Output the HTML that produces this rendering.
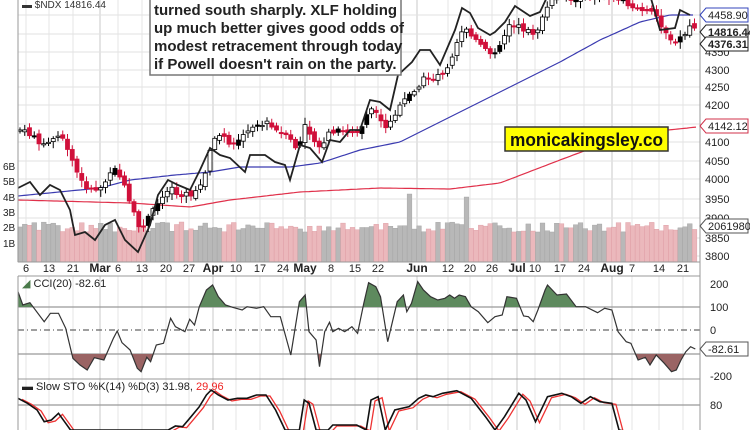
<!DOCTYPE html>
<html><head><meta charset="utf-8"><style>
body{margin:0;background:#fff;width:750px;height:430px;overflow:hidden;font-family:"Liberation Sans",sans-serif}
svg{display:block}
</style></head><body>
<svg id="s" width="750" height="430" viewBox="0 0 750 430" xmlns="http://www.w3.org/2000/svg" font-family="Liberation Sans, sans-serif">
<rect width="750" height="430" fill="#fff"/>
<g id="grid" stroke="#e2e2e2" stroke-width="1"></g>
<g id="vol"></g>
<g id="ma"></g>
<g id="cand"></g>
<g id="lines"></g>
<g id="cci"></g>
<g id="sto"></g>
<line x1="18" y1="0" x2="18" y2="262" stroke="#999"/>
<line x1="700" y1="0" x2="700" y2="430" stroke="#999"/>
<line x1="18" y1="262" x2="700" y2="262" stroke="#999"/>
<line x1="18" y1="276" x2="700" y2="276" stroke="#999"/>
<line x1="18" y1="379" x2="700" y2="379" stroke="#999"/>
<line x1="18" y1="276" x2="18" y2="430" stroke="#999"/>
<g font-size="11" fill="#222" id="labels"></g>
<text x="22" y="8" font-size="10" fill="#333">▬ $NDX 14816.44</text>
<rect x="150" y="-5" width="251" height="80" fill="#fff" stroke="#777" stroke-width="1.5"/>
<g font-size="15" font-weight="bold" fill="#222">
<text x="154" y="15">turned south sharply. XLF holding</text>
<text x="154" y="33">up much better gives good odds of</text>
<text x="154" y="51">modest retracement through today</text>
<text x="154" y="69">if Powell doesn't rain on the party.</text>
</g>
<rect x="505" y="127" width="163" height="24" fill="#ffff00" stroke="#333" stroke-width="1.5"/>
<text x="510" y="146" font-size="18" font-weight="bold" textLength="153" lengthAdjust="spacingAndGlyphs" fill="#111">monicakingsley.co</text>
<text x="22" y="287" font-size="11" fill="#222"><tspan fill="#4a7a4a">◢</tspan> CCI(20) -82.61</text>
<text x="22" y="390" font-size="11" fill="#222">▬ Slow STO %K(14) %D(3) 31.98, <tspan fill="#e22">29.96</tspan></text>
</svg>
<script>
const NS="http://www.w3.org/2000/svg";
function el(p,t,a,txt){const e=document.createElementNS(NS,t);for(const k in a)e.setAttribute(k,a[k]);if(txt!=null)e.textContent=txt;document.getElementById(p).appendChild(e);return e;}
function interp(pts,x){if(x<=pts[0][0])return pts[0][1];for(let i=1;i<pts.length;i++){if(x<=pts[i][0]){const a=pts[i-1],b=pts[i];return a[1]+(b[1]-a[1])*(x-a[0])/(b[0]-a[0]);}}return pts[pts.length-1][1];}
function path(pts){return pts.map((p,i)=>(i?'L':'M')+p[0].toFixed(1)+' '+p[1].toFixed(1)).join(' ');}
const dates=[[26,"6"],[49,"13"],[73,"21"],[100,"Mar",1],[118,"6"],[142,"13"],[166,"20"],[189,"27"],[213,"Apr",1],[236,"10"],[260,"17"],[283,"24"],[305,"May",1],[331,"8"],[355,"15"],[378,"22"],[417,"Jun",1],[448,"12"],[470,"20"],[492,"26"],[517,"Jul",1],[535,"10"],[560,"17"],[584,"24"],[612,"Aug",1],[632,"7"],[659,"14"],[683,"21"]];
dates.forEach(d=>{const c=d[2]?"#c8c8c8":"#e6e6e6";el("grid","line",{x1:d[0],y1:0,x2:d[0],y2:262,stroke:c});el("grid","line",{x1:d[0],y1:276,x2:d[0],y2:430,stroke:c});
 el("labels","text",{x:d[0],y:272,"text-anchor":"middle","font-weight":d[2]?"bold":"normal","font-size":d[2]?12:11},d[1]);});
const pl=[[4350,52],[4300,70],[4250,87],[4200,105],[4100,142],[4050,161],[4000,179],[3950,199],[3900,218],[3850,238],[3800,256]];
pl.forEach(p=>{el("grid","line",{x1:18,y1:p[1],x2:700,y2:p[1]});el("labels","text",{x:705,y:p[1]+4},p[0]);});
[15,34,124].forEach(y=>el("grid","line",{x1:18,y1:y,x2:700,y2:y}));
[["6B",166],["5B",181],["4B",197],["3B",212],["2B",227],["1B",243]].forEach(v=>el("labels","text",{x:3,y:v[1]+4,"font-size":10},v[0]));
function tag(y,txt,col,bold){el("labels","path",{d:`M700 ${y} L706 ${y-7} L748 ${y-7} L748 ${y+7} L706 ${y+7} Z`,fill:"#fff",stroke:col});el("labels","text",{x:708,y:y+4,fill:"#222","font-weight":bold?"bold":"normal","font-size":11},txt);}
tag(15,"4458.90","#3344bb");tag(32,"14816.44","#222",1);tag(44,"4376.31","#222",1);tag(126,"4142.12","#d0304a");tag(226,"2061980","#555");
const cp=[[20,130],[30,135],[45,145],[60,135],[70,155],[80,180],[90,190],[100,188],[115,170],[122,180],[130,205],[140,230],[150,215],[160,200],[170,185],[180,195],[195,195],[205,175],[212,140],[220,135],[230,145],[240,140],[250,130],[265,122],[275,130],[290,140],[298,150],[305,125],[315,140],[322,150],[330,130],[345,132],[360,130],[370,105],[385,130],[395,115],[405,100],[418,85],[425,78],[435,78],[445,70],[450,62],[455,45],[465,25],[470,35],[480,45],[490,55],[500,45],[510,22],[520,28],[530,32],[535,33],[540,25],[550,0],[600,-5],[620,0],[630,5],[645,12],[655,14],[665,30],[675,45],[680,38],[688,32],[693,20],[697,40]];
let seed=7;function rnd(){seed=(seed*9301+49297)%233280;return seed/233280;}
const spikes={408:68,465:65,180:40,600:38};
let prev=cp[0][1];let i=0;
for(let x=20;x<=698;x+=4.75,i++){
 const c=interp(cp,x)+(rnd()-0.5)*6;const o=prev+(rnd()-0.5)*5;
 const hi=Math.min(o,c)-2-rnd()*5,lo=Math.max(o,c)+2+rnd()*5;
 const up=c<o;const col=up?"#000":"#d0103a";
 el("cand","line",{x1:x,y1:hi,x2:x,y2:lo,stroke:col,"stroke-width":1});
 el("cand","rect",{x:x-2,y:Math.min(o,c),width:4,height:Math.max(1.2,Math.abs(o-c)),fill:up?(rnd()<0.15?"#000":"#fff"):"#d0103a",stroke:col,"stroke-width":0.8});
 prev=c;
 let vh=30+rnd()*10;
 for(const k in spikes){if(Math.abs(x-k)<2.4)vh=spikes[k];}
 el("vol","rect",{x:x-2.37,y:262-vh,width:4.75,height:vh,fill:up?"#b8b8b8":"#ebb8bc",stroke:up?"#a0a0a0":"#dc98a0","stroke-width":0.4});
}
const blue=[[18,196],[100,188],[130,180],[175,175],[210,172],[240,167],[290,167],[320,163],[360,150],[400,142],[450,117],[500,92],[560,62],[600,40],[640,22],[670,15],[695,15]];
const red=[[18,200],[130,203],[190,207],[230,200],[300,192],[380,188],[450,189],[500,183],[560,160],[600,145],[640,133],[697,127]];
function smooth(pts){const r=[];for(let x=pts[0][0];x<=pts[pts.length-1][0];x+=3)r.push([x,interp(pts,x)]);return r;}
el("ma","path",{d:path(smooth(blue)),fill:"none",stroke:"#3a3ab0","stroke-width":1.2});
el("ma","path",{d:path(smooth(red)),fill:"none",stroke:"#e0304a","stroke-width":1.2});
const blk=[[18,188],[30,182],[40,195],[50,185],[60,190],[70,210],[75,235],[85,232],[95,240],[105,225],[115,220],[125,240],[138,252],[150,225],[158,195],[168,180],[178,185],[190,190],[200,170],[210,148],[220,155],[230,158],[245,172],[250,155],[265,155],[275,162],[285,165],[290,180],[300,145],[310,148],[322,162],[330,140],[340,142],[350,130],[360,130],[370,100],[380,102],[390,110],[398,75],[412,62],[420,50],[430,50],[440,65],[455,30],[462,8],[470,13],[478,28],[490,35],[495,32],[505,22],[515,6],[530,16],[540,12],[548,-5],[650,-5],[660,30],[675,28],[680,10],[690,15]];
el("lines","path",{d:path(blk),fill:"none",stroke:"#222","stroke-width":1.8});
[[307,"#999","none"],[330,"#666","6 3 1 3"],[354,"#999","none"]].forEach(l=>el("cci","line",{x1:18,y1:l[0],x2:700,y2:l[0],stroke:l[1],"stroke-dasharray":l[2],"stroke-width":1.2}));
[[200,284],[100,307],[0,330],[-200,376]].forEach(v=>el("labels","text",{x:710,y:v[1]+4},v[0]));
const cz=[[40,65],[50,105],[65,98],[95,155],[108,130],[125,130],[140,175],[155,265],[170,285],[185,300],[200,263],[220,270],[240,205],[248,183],[258,218],[275,240],[290,295],[298,305],[310,262],[318,275],[330,225],[345,220],[360,145],[370,170],[390,185],[400,148],[410,165],[420,110],[435,60],[448,45],[460,80],[475,105],[490,112],[510,120],[520,110],[540,115],[555,110],[570,140],[590,140],[612,255],[630,95],[642,75],[650,185],[665,210],[672,290],[683,185],[693,157],[700,185],[712,175],[725,185],[740,170],[752,190],[765,100],[775,38],[790,50],[800,80],[815,215],[835,95],[848,75],[855,125],[865,100],[878,35],[890,60],[905,80],[920,90],[935,85],[945,75],[955,85],[965,75],[978,80],[990,110],[1005,125],[1025,158],[1040,140],[1055,135],[1065,80],[1085,85],[1100,138],[1110,140],[1120,155],[1130,120],[1145,60],[1150,45],[1170,75],[1190,72],[1210,110],[1230,110],[1255,128],[1270,115],[1285,120],[1298,185],[1315,215],[1325,220],[1340,270],[1355,262],[1365,285],[1378,255],[1395,280],[1410,305],[1420,300],[1430,270],[1440,245],[1450,230],[1460,237]];
const cc=cz.map(p=>[18+(p[0]-40)*0.477,270+p[1]/3]);
const defs=el("s","defs",{});
const c1=document.createElementNS(NS,"clipPath");c1.id="ca";c1.innerHTML='<rect x="18" y="277" width="682" height="30"/>';defs.appendChild(c1);
const c2=document.createElementNS(NS,"clipPath");c2.id="cb";c2.innerHTML='<rect x="18" y="354" width="682" height="30"/>';defs.appendChild(c2);
const f=cc[0][0],l=cc[cc.length-1][0];
el("cci","path",{d:path(cc)+` L${l} 307 L${f} 307 Z`,fill:"#5e8a5e",stroke:"none","clip-path":"url(#ca)"});
el("cci","path",{d:path(cc)+` L${l} 354 L${f} 354 Z`,fill:"#9a6464",stroke:"none","clip-path":"url(#cb)"});
el("cci","path",{d:path(cc),fill:"none",stroke:"#333","stroke-width":1.2});
tag(349,"-82.61","#555");
el("sto","line",{x1:18,y1:405,x2:700,y2:405,stroke:"#999","stroke-width":1.2});
el("labels","text",{x:710,y:409},"80");
const sz=[[40,385],[60,400],[80,420],[95,455],[110,450],[125,430],[140,460],[150,480],[355,480],[370,468],[385,470],[400,445],[420,410],[435,375],[445,360],[460,375],[480,390],[500,385],[520,385],[540,375],[560,375],[580,420],[600,480],[630,480],[640,390],[650,400],[665,480],[690,480],[700,465],[720,465],[750,465],[770,480],[780,390],[795,380],[810,480],[830,420],[860,410],[880,385],[895,375],[910,380],[930,370],[960,362],[990,385],[1020,440],[1040,480],[1060,440],[1090,370],[1105,390],[1125,455],[1150,380],[1180,370],[1200,380],[1220,400],[1240,380],[1260,395],[1285,400],[1300,480],[1320,500]];
const sk=sz.map(p=>[18+(p[0]-40)*0.477,Math.min(432,270+p[1]/3)]);
el("sto","path",{d:path(sk.map(p=>[p[0]+4,p[1]+1])),fill:"none",stroke:"#e33","stroke-width":1.3});
el("sto","path",{d:path(sk),fill:"none",stroke:"#111","stroke-width":1.6});
</script>
</body></html>
